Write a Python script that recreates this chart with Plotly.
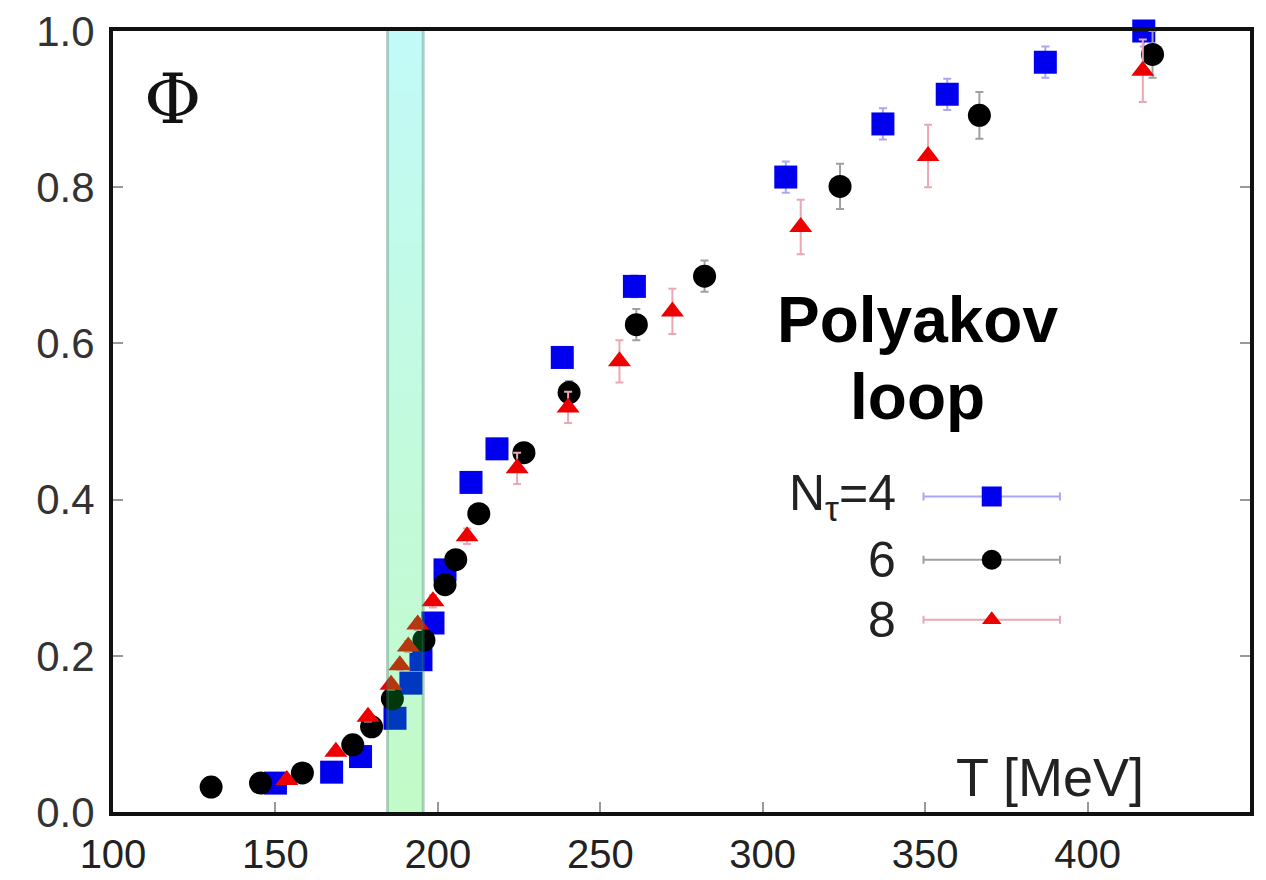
import plotly.graph_objects as go
import numpy as np

# ---- data ----
T_nt4 = [150.0, 167.3, 176.2, 186.8, 191.7, 194.8, 198.5, 202.2, 210.2, 218.2,
         238.3, 260.5, 307.1, 337.0, 356.8, 387.0, 417.3]
phi_nt4 = [0.037, 0.051, 0.071, 0.120, 0.165, 0.195, 0.242, 0.310, 0.422, 0.465,
           0.582, 0.673, 0.813, 0.881, 0.919, 0.960, 1.000]
err_nt4 = [0.004, 0.004, 0.005, 0.005, 0.006, 0.006, 0.006, 0.007, 0.008, 0.009,
           0.012, 0.014, 0.020, 0.020, 0.020, 0.020, 0.020]

T_nt6 = [130.2, 145.4, 158.3, 173.8, 179.6, 186.0, 195.7, 202.2, 205.5, 212.6,
         226.5, 240.4, 261.1, 282.1, 323.8, 366.7, 420.0]
phi_nt6 = [0.032, 0.037, 0.050, 0.086, 0.109, 0.145, 0.220, 0.291, 0.323, 0.382,
           0.460, 0.537, 0.624, 0.686, 0.801, 0.892, 0.970]
err_nt6 = [0.003, 0.004, 0.004, 0.005, 0.005, 0.006, 0.006, 0.007, 0.008, 0.009,
           0.012, 0.015, 0.020, 0.020, 0.029, 0.030, 0.030]

T_nt8 = [153.5, 168.6, 178.5, 185.6, 188.3, 190.9, 193.8, 198.5, 209.0, 224.4,
         240.1, 255.9, 272.2, 311.7, 350.9, 417.0]
phi_nt8 = [0.041, 0.077, 0.122, 0.163, 0.188, 0.212, 0.240, 0.270, 0.353, 0.440,
           0.518, 0.577, 0.641, 0.749, 0.840, 0.949]
err_nt8 = [0.004, 0.005, 0.006, 0.006, 0.006, 0.007, 0.007, 0.008, 0.010, 0.020,
           0.020, 0.027, 0.029, 0.035, 0.040, 0.040]

TC_BAND = [184.5, 195.5]          # transition band in MeV
X_RANGE = [100, 450]
Y_RANGE = [0, 1.0]
X_TICKS = [100, 150, 200, 250, 300, 350, 400]
Y_TICKS = [0.0, 0.2, 0.4, 0.6, 0.8, 1.0]

LEGEND_LABELS = ["N<sub>τ</sub>=4", "6", "8"]
LEGEND_T = [349.5, 391.5]          # legend sample extent (MeV)
LEGEND_PHI = [0.404, 0.323, 0.246]  # legend rows (Φ units)

SERIES = [
    dict(x=T_nt4, y=phi_nt4, e=err_nt4, color="#0000ee", ecolor="#a8a8f4",
         symbol="square", size=23),
    dict(x=T_nt6, y=phi_nt6, e=err_nt6, color="#000000", ecolor="#a0a0a0",
         symbol="circle", size=23),
    dict(x=T_nt8, y=phi_nt8, e=err_nt8, color="#ee0000", ecolor="#eba8b4",
         symbol="triangle-up", size=20),
]

fig = go.Figure()

for s in SERIES:
    fig.add_trace(go.Scatter(
        x=s["x"], y=s["y"], mode="markers",
        marker=dict(symbol=s["symbol"], size=s["size"], color=s["color"], line=dict(width=0)),
        error_y=dict(type="data", array=s["e"], color=s["ecolor"], thickness=2, width=4),
        showlegend=False, cliponaxis=False,
    ))

# legend samples (marker + horizontal errorbar line) drawn right of text labels
for s, ly in zip(SERIES, LEGEND_PHI):
    mid = (LEGEND_T[0] + LEGEND_T[1]) / 2
    half = (LEGEND_T[1] - LEGEND_T[0]) / 2
    fig.add_trace(go.Scatter(
        x=[mid], y=[ly], mode="markers",
        marker=dict(symbol=s["symbol"], size=s["size"] - 3, color=s["color"], line=dict(width=0)),
        error_x=dict(type="constant", value=half, color=s["ecolor"], thickness=2, width=4),
        showlegend=False,
    ))

# gradient band (semi-transparent, drawn above markers)
n = 26
edges = np.linspace(Y_RANGE[0], Y_RANGE[1], n + 1)
c_bot = np.array([0, 235, 20])
c_top = np.array([0, 235, 225])
shapes = []
for i in range(n):
    f = (i + 0.5) / n
    c = (1 - f) * c_bot + f * c_top
    shapes.append(dict(type="rect", xref="x", yref="y", layer="above",
                       x0=TC_BAND[0], x1=TC_BAND[1], y0=edges[i], y1=edges[i + 1],
                       fillcolor=f"rgba({int(c[0])},{int(c[1])},{int(c[2])},0.24)",
                       line=dict(width=0)))
for xb in TC_BAND:
    shapes.append(dict(type="line", xref="x", yref="y", layer="above",
                       x0=xb, x1=xb, y0=Y_RANGE[0], y1=Y_RANGE[1],
                       line=dict(color="rgba(60,120,100,0.35)", width=3)))

annotations = [
    dict(text="Φ", x=0.052, y=0.913, xref="paper", yref="paper", showarrow=False,
         xanchor="center", yanchor="middle",
         font=dict(family="DejaVu Serif", size=70, color="#111")),
    dict(text="<b>Polyakov</b>", x=0.708, y=0.630, xref="paper", yref="paper", showarrow=False,
         xanchor="center", yanchor="middle",
         font=dict(family="Liberation Sans", size=64, color="#000")),
    dict(text="<b>loop</b>", x=0.708, y=0.531, xref="paper", yref="paper", showarrow=False,
         xanchor="center", yanchor="middle",
         font=dict(family="Liberation Sans", size=64, color="#000")),
    dict(text="T [MeV]", x=0.824, y=0.045, xref="paper", yref="paper", showarrow=False,
         xanchor="center", yanchor="middle",
         font=dict(family="Liberation Sans", size=54, color="#222")),
]
for lab, ly in zip(LEGEND_LABELS, LEGEND_PHI):
    annotations.append(dict(text=lab, x=0.690, y=ly, xref="paper", yref="y",
                            xanchor="right", yanchor="middle", showarrow=False,
                            font=dict(family="Liberation Sans", size=50, color="#222")))

# the page body adds an 8px offset, so the figure is sized to fit the window
fig.update_layout(
    width=1258, height=872,
    margin=dict(l=105, r=16, t=23, b=68),
    paper_bgcolor="white", plot_bgcolor="white",
    shapes=shapes, annotations=annotations,
    xaxis=dict(range=X_RANGE, tickvals=X_TICKS, ticks="inside", ticklen=10, tickwidth=2,
               tickcolor="#999", showgrid=False, zeroline=False, showline=True,
               linecolor="#111", linewidth=4, mirror=True, automargin=False,
               ticklabeloverflow="allow",
               tickfont=dict(family="Liberation Sans", size=40, color="#222"),
               ticklabelstandoff=4),
    yaxis=dict(range=Y_RANGE, tickvals=Y_TICKS, tickformat=".1f", ticks="inside",
               ticklen=10, tickwidth=2, tickcolor="#999", showgrid=False, zeroline=False,
               showline=True, linecolor="#111", linewidth=4, mirror="ticks",
               automargin=False, ticklabeloverflow="allow",
               tickfont=dict(family="Liberation Sans", size=42, color="#333"),
               ticklabelstandoff=6),
)

fig.write_html("out.html")
